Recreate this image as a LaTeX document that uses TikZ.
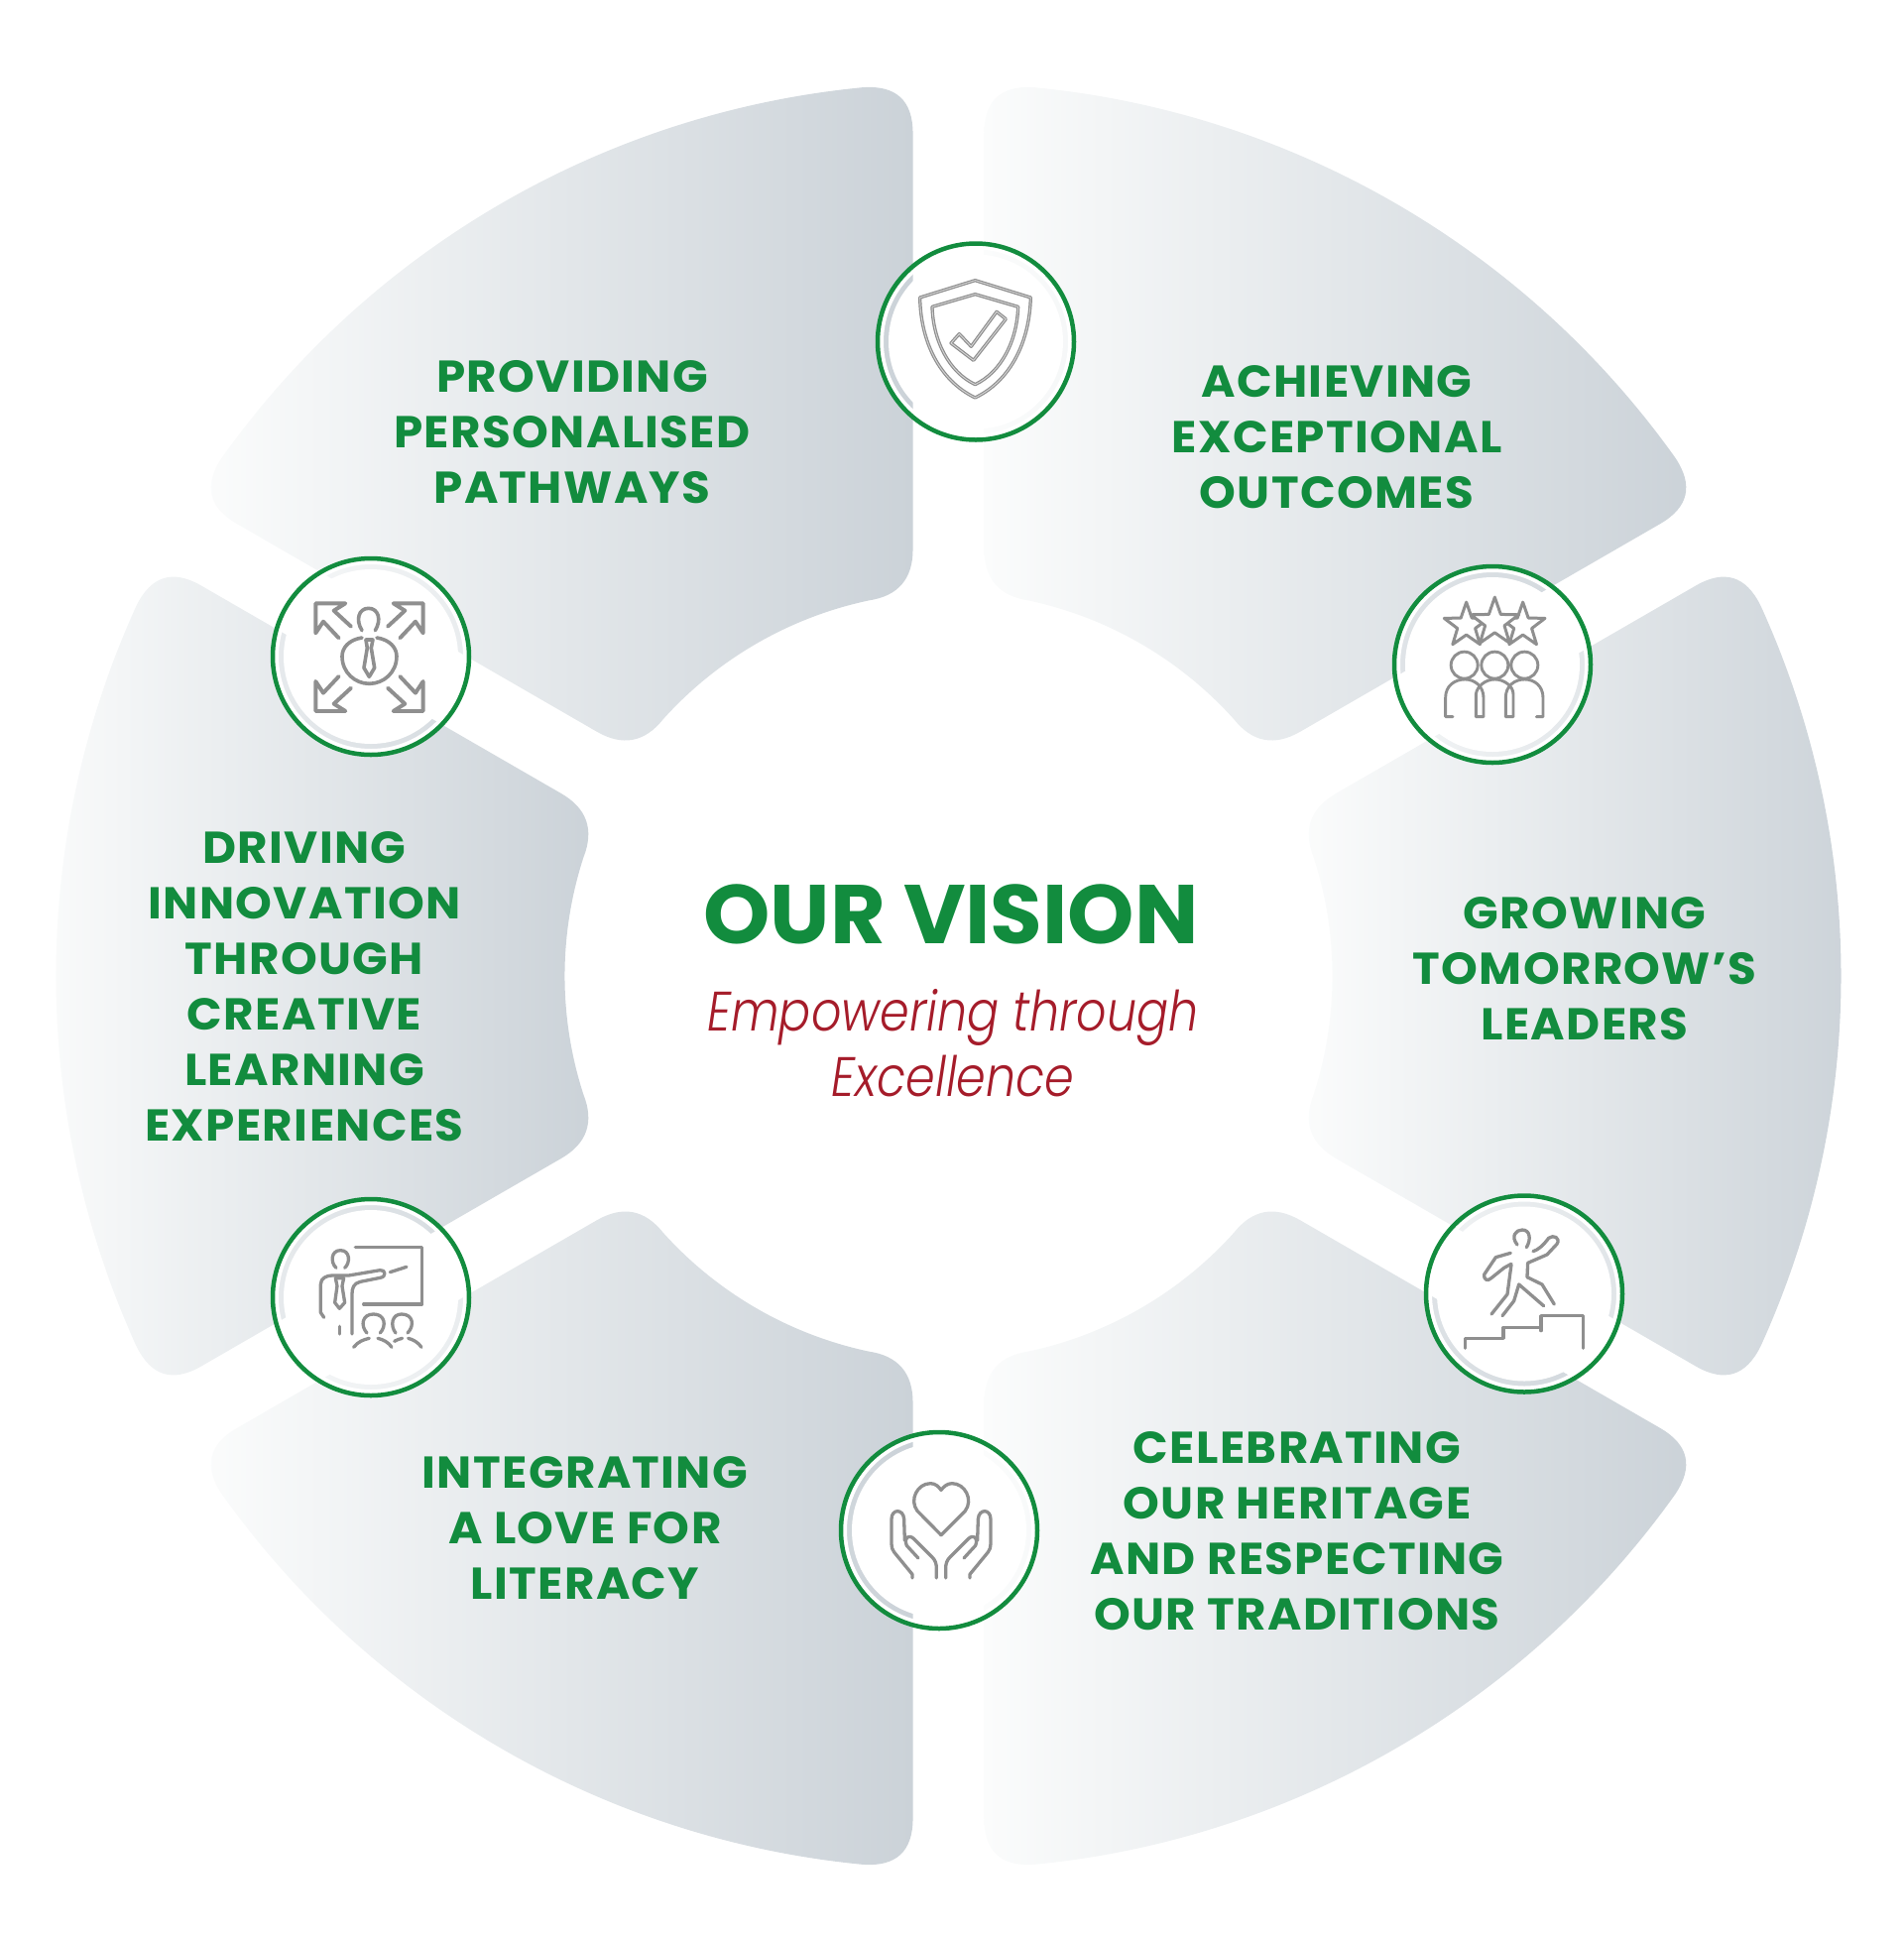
\documentclass[tikz,border=0pt]{standalone}
\usepackage{fontspec}
\usepackage{tikz}
\usetikzlibrary{shapes}
\newfontfamily\labelfont[FakeStretch=1.04,LetterSpace=3]{Poppins}
\newfontfamily\visionfont[FakeStretch=1.02]{Poppins}
\newfontfamily\sloganfont[FakeStretch=0.85]{Poppins Light}
\definecolor{ringgreen}{HTML}{128C3E}
\definecolor{sloganred}{HTML}{A51C2A}
\definecolor{iconline}{HTML}{8F8F8F}
\definecolor{iconcore}{HTML}{D4D4D4}
\definecolor{segleft}{HTML}{FBFCFC}
\definecolor{segright}{HTML}{CBD2D8}

% one segment of the ring, axis along +x, centre at the origin
\def\segpath{(753.5,-393.5) .. controls (782.4,-410.2) and (804.2,-403.4) .. (819,-373.2)
  arc[start angle=-24.5,end angle=24.5,radius=900pt]
  .. controls (804.2,403.4) and (782.4,410.2) .. (753.5,393.5) -- (390.6,184)
  .. controls (364.6,169) and (357.1,147.5) .. (368.1,119.6)
  arc[start angle=18,end angle=-18,radius=387pt]
  .. controls (357.1,-147.5) and (364.6,-169) .. (390.6,-184) -- cycle}

\begin{document}
\begin{tikzpicture}[x=1pt, y=-1pt,
    segment/.style={left color=segleft, right color=segright},
    badge/.style={circle, draw=ringgreen, line width=4.5pt, minimum size=198pt, inner sep=0pt},
    badgefill/.style={fill=white, even odd rule},
    iconpath/.style={draw=iconline, line width=3.3pt, line join=round, line cap=round},
    iconcorepath/.style={draw=iconcore, line width=0.9pt, line join=round},
    iconstar/.style={star, star points=5, star point ratio=2.5, draw=iconline, fill=white,
                     line width=3pt, line join=round, inner sep=0pt, minimum size=47pt},
    cropframe/.style={x=0.3333pt, y=-0.3333pt}]
\useasboundingbox (0,0) rectangle (1920,1955);

\begin{scope}[shift={(956.5,984)}, y=1pt]
  \path[segment] \segpath;
  \path[segment, rotate=60] \segpath;
  \path[segment, rotate=120] \segpath;
  \path[segment, rotate=180] \segpath;
  \path[segment, rotate=240] \segpath;
  \path[segment, rotate=300] \segpath;
\end{scope}

% white discs, a thin band inside lets the segment show through
\fill[badgefill] (984,344.5) circle (98pt) circle (93pt) circle (88pt);
\fill[badgefill] (1505,670) circle (98pt) circle (93pt) circle (88pt);
\fill[badgefill] (1537,1304.5) circle (98pt) circle (93pt) circle (88pt);
\fill[badgefill] (947,1543) circle (98pt) circle (93pt) circle (88pt);
\fill[badgefill] (374,1308) circle (98pt) circle (93pt) circle (88pt);
\fill[badgefill] (374,662) circle (98pt) circle (93pt) circle (88pt);

\node[badge] (shield) at (984,344.5) {};
\node[badge] (stars) at (1505,670) {};
\node[badge] (stairs) at (1537,1304.5) {};
\node[badge] (hands) at (947,1543) {};
\node[badge] (teacher) at (374,1308) {};
\node[badge] (arrows) at (374,662) {};

% shield
\begin{scope}[shift={(860,220)}, cropframe]
  \path[iconpath] (370,188) -- (538,240) .. controls (535,370) and (480,490) .. (370,543)
     .. controls (260,490) and (205,370) .. (203,240) -- cycle;
  \path[iconcorepath] (370,188) -- (538,240) .. controls (535,370) and (480,490) .. (370,543)
     .. controls (260,490) and (205,370) .. (203,240) -- cycle;
  \path[iconpath] (370,230) -- (500,268) .. controls (497,370) and (450,465) .. (370,503)
     .. controls (290,465) and (243,370) .. (240,268) -- cycle;
  \path[iconcorepath] (370,230) -- (500,268) .. controls (497,370) and (450,465) .. (370,503)
     .. controls (290,465) and (243,370) .. (240,268) -- cycle;
  \path[iconpath] (297,378) -- (322,350) -- (358,388) -- (435,283) -- (463,305) -- (365,430) -- cycle;
  \path[iconcorepath] (297,378) -- (322,350) -- (358,388) -- (435,283) -- (463,305) -- (365,430) -- cycle;
\end{scope}

% three stars over three people
\begin{scope}[shift={(1390,550)}, cropframe]
  \node[iconstar] (starleft) at (266,242) {};
  \node[iconstar] (starright) at (437,242) {};
  \node[iconstar, minimum size=51pt] (starmid) at (352,233) {};
  \path[iconpath, line width=2.9pt] (260,362) circle (13.5pt) (352,362) circle (13.5pt) (442,362) circle (13.5pt);
  \path[iconpath, line width=2.9pt] (225,518) -- (203,518) -- (203,460) .. controls (203,425) and (230,405) .. (262,405)
     .. controls (290,405) and (318,425) .. (318,460) -- (318,518) -- (295,518) -- (295,450)
     .. controls (298,425) and (325,405) .. (352,405) .. controls (380,405) and (408,425) .. (408,450)
     -- (408,518) -- (385,518) -- (385,460) .. controls (385,425) and (412,405) .. (442,405)
     .. controls (472,405) and (498,425) .. (498,460) -- (498,518) -- (478,518);
\end{scope}

% person with four arrows
\begin{scope}[shift={(255,545)}, cropframe]
  \path[iconpath, line width=3.9pt] (297,260) -- (245,212) -- (280,190) -- (190,190) -- (190,280) -- (213,245) -- (260,295);
  \path[iconpath, line width=3.9pt] (408,260) -- (460,212) -- (425,190) -- (515,190) -- (515,280) -- (492,245) -- (445,295);
  \path[iconpath, line width=3.9pt] (297,446) -- (245,494) -- (280,516) -- (190,516) -- (190,426) -- (213,461) -- (260,411);
  \path[iconpath, line width=3.9pt] (408,446) -- (460,494) -- (425,516) -- (515,516) -- (515,426) -- (492,461) -- (445,411);
  \path[iconpath, line width=3.6pt] (330,272) .. controls (310,240) and (320,205) .. (350,205) .. controls (380,205) and (390,240) .. (370,272);
  \path[iconpath, line width=3.6pt] (330,294) .. controls (290,300) and (270,325) .. (270,350) .. controls (270,400) and (310,433) .. (352,433)
     .. controls (395,433) and (435,400) .. (435,350) .. controls (435,325) and (415,300) .. (375,294);
  \path[iconpath, line width=3.6pt] (342,300) -- (363,300) -- (358,325) -- (368,385) -- (352,412) -- (336,385) -- (346,325) -- cycle;
\end{scope}

% presenter at a board
\begin{scope}[shift={(255,1190)}, cropframe]
  \path[iconpath] (310,203) -- (512,203) -- (512,375) -- (335,375);
  \path[iconpath] (415,278) -- (465,262);
  \path[iconpath] (252,265) .. controls (235,250) and (235,212) .. (265,212) .. controls (295,212) and (295,250) .. (278,265);
  \path[iconpath] (215,415) -- (205,400) -- (205,315) .. controls (205,295) and (225,288) .. (240,288) -- (290,288) -- (385,272)
     .. controls (402,270) and (405,292) .. (385,295) -- (325,307) .. controls (305,312) and (300,325) .. (300,345) -- (300,465);
  \path[iconpath] (250,296) -- (275,296) -- (270,320) -- (278,370) -- (262,388) -- (248,370) -- (255,320) -- cycle;
  \path[iconpath] (263,442) -- (263,465);
  \path[iconpath] (345,462) .. controls (325,440) and (330,405) .. (365,405) .. controls (400,405) and (405,440) .. (385,462);
  \path[iconpath] (305,505) .. controls (318,488) and (335,482) .. (352,478);
  \path[iconpath] (378,478) .. controls (395,482) and (410,490) .. (420,505);
  \path[iconpath] (432,462) .. controls (415,440) and (420,405) .. (450,405) .. controls (485,405) and (490,440) .. (468,462);
  \path[iconpath] (428,487) .. controls (435,482) and (445,480) .. (452,478);
  \path[iconpath] (470,478) .. controls (485,482) and (500,490) .. (510,505);
\end{scope}

% hands holding a heart
\begin{scope}[shift={(825,1425)}, cropframe]
  \path[iconpath] (372,368) -- (300,295) .. controls (275,262) and (300,212) .. (340,212) .. controls (355,212) and (365,222) .. (372,232)
     .. controls (380,222) and (390,212) .. (405,212) .. controls (445,212) and (470,262) .. (445,295) -- cycle;
  \path[iconpath] (285,498) -- (285,487) -- (230,420) .. controls (224,412) and (222,405) .. (222,395) -- (222,320)
     .. controls (222,288) and (258,288) .. (260,320) -- (262,385);
  \path[iconpath] (303,438) -- (268,400) .. controls (258,375) and (275,365) .. (290,380) -- (345,435)
     .. controls (355,445) and (358,455) .. (358,470) -- (358,498);
  \path[iconpath] (459,498) -- (459,487) -- (514,420) .. controls (520,412) and (522,405) .. (522,395) -- (522,320)
     .. controls (522,288) and (486,288) .. (484,320) -- (482,385);
  \path[iconpath] (441,438) -- (476,400) .. controls (486,375) and (469,365) .. (454,380) -- (399,435)
     .. controls (389,445) and (386,455) .. (386,470) -- (386,498);
\end{scope}

% figure climbing stairs
\begin{scope}[shift={(1420,1185)}, cropframe]
  \path[iconpath] (172,523) -- (172,493) -- (288,493) -- (288,460) -- (402,460);
  \path[iconpath] (402,470) -- (402,425) -- (530,425) -- (530,523);
  \path[iconpath] (330,210) .. controls (310,185) and (325,165) .. (345,165) .. controls (370,165) and (372,195) .. (358,218);
  \path[iconpath] (378,230) .. controls (395,225) and (410,210) .. (425,190) .. controls (440,178) and (462,190) .. (450,208)
     -- (420,240) -- (362,265) -- (360,308) -- (405,330) -- (442,390);
  \path[iconpath] (285,425) -- (320,380) -- (335,330) -- (410,395);
  \path[iconpath] (310,235) -- (265,248) -- (230,300) .. controls (228,315) and (240,322) .. (250,312) -- (290,280) -- (312,268);
  \path[iconpath] (252,420) -- (300,360) -- (312,270);
\end{scope}

\begin{scope}[every node/.style={text=ringgreen, align=center, inner sep=0pt,
                                 font=\labelfont\bfseries\fontsize{45}{56}\selectfont}]
  \node (providing) at (577,436) {PROVIDING\\PERSONALISED\\PATHWAYS};
  \node (achieving) at (1348,441) {ACHIEVING\\EXCEPTIONAL\\OUTCOMES};
  \node (growing) at (1598,977) {GROWING\\TOMORROW’S\\LEADERS};
  \node (celebrating) at (1308,1544) {CELEBRATING\\OUR HERITAGE\\AND RESPECTING\\OUR TRADITIONS};
  \node (integrating) at (590,1541) {INTEGRATING\\A LOVE FOR\\LITERACY};
  \node (driving) at (307,995) {DRIVING\\INNOVATION\\THROUGH\\CREATIVE\\LEARNING\\EXPERIENCES};
\end{scope}

\node[text=ringgreen, inner sep=0pt, font=\visionfont\bfseries\fontsize{84}{90}\selectfont] (vision) at (959,922) {OUR VISION};
\node[text=sloganred, align=center, inner sep=0pt, font=\sloganfont\itshape\fontsize{56}{66}\selectfont] (slogan) at (961,1051.5) {Empowering through\\Excellence};

\end{tikzpicture}
\end{document}
